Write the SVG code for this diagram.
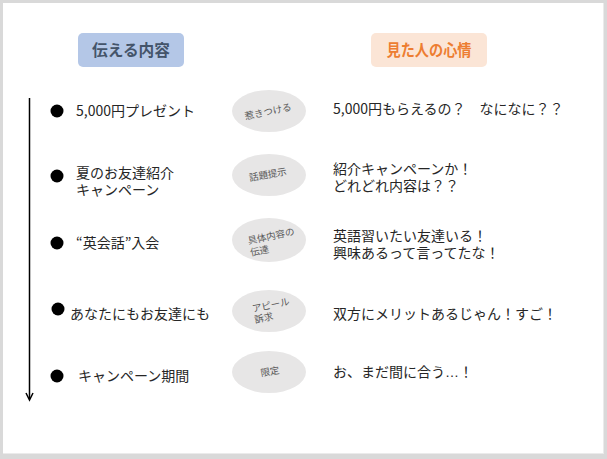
<svg xmlns="http://www.w3.org/2000/svg" width="607" height="459" viewBox="0 0 607 459">
<style>
text{font-family:"Noto Sans CJK JP","Noto Sans",sans-serif;}
.t{font-size:14px;fill:#262626;}
.e{fill:#E7E6E6;}
.et{font-size:9.5px;fill:#595959;}
.b{fill:#000;}
.h{font-size:16px;font-weight:bold;text-anchor:middle;}
.lat{font-family:"Liberation Sans",sans-serif;}
</style>
<rect x="0" y="0" width="607" height="459" fill="#D9D9D9"/>
<rect x="3" y="3" width="601" height="451" fill="#EBEBEB"/>
<rect x="3" y="3" width="600" height="450" fill="#FFFFFF"/>
<g id="connectors">
<line x1="29.5" y1="98" x2="29.5" y2="399" stroke="#000" stroke-width="1.5"/>
<path d="M26,393 L29.5,400 L33,393" fill="none" stroke="#000" stroke-width="1.5"/>
</g>
<g id="header-left">
<rect x="78" y="33" width="106" height="34" rx="5" fill="#B4C7E7"/>
<text class="h" x="131" y="55.5" fill="#44546A" textLength="78" lengthAdjust="spacingAndGlyphs">伝える内容</text>
</g>
<g id="header-right">
<rect x="371" y="33" width="116" height="34" rx="5" fill="#FBE5D6"/>
<text class="h" x="429" y="55.5" fill="#ED7D31" textLength="85" lengthAdjust="spacingAndGlyphs">見た人の心情</text>
</g>
<g id="item1">
<circle class="b" cx="57" cy="111" r="6.5"/>
<text class="t" x="76" y="116">5,000円プレゼント</text>
</g>
<g id="item2">
<circle class="b" cx="57" cy="176" r="6.5"/>
<text class="t"><tspan x="76" y="178">夏のお友達紹介</tspan><tspan x="76" y="195">キャンペーン</tspan></text>
</g>
<g id="item3">
<circle class="b" cx="57" cy="243" r="6.5"/>
<text class="t" x="76" y="248">“英会話”入会</text>
</g>
<g id="item4">
<circle class="b" cx="58" cy="309" r="6.5"/>
<text class="t" x="70" y="319">あなたにもお友達にも</text>
</g>
<g id="item5">
<circle class="b" cx="57" cy="376" r="6.5"/>
<text class="t" x="78" y="381">キャンペーン期間</text>
</g>
<g id="tag1">
<ellipse class="e" cx="269" cy="111" rx="37" ry="21"/>
<text class="et" x="268" y="115" text-anchor="middle" transform="rotate(-12 268 111)">惹きつける</text>
</g>
<g id="tag2">
<ellipse class="e" cx="269" cy="175" rx="37" ry="21"/>
<text class="et" x="268" y="178" text-anchor="middle" transform="rotate(-10 268 175)">話題提示</text>
</g>
<g id="tag3">
<ellipse class="e" cx="269" cy="240" rx="37" ry="22"/>
<text class="et" transform="rotate(-12 269 240)"><tspan x="248" y="240">具体内容の</tspan><tspan x="248" y="252">伝達</tspan></text>
</g>
<g id="tag4">
<ellipse class="e" cx="269" cy="311" rx="37" ry="21"/>
<text class="et" transform="rotate(-12 269 311)"><tspan x="253" y="309">アピール</tspan><tspan x="253" y="320">訴求</tspan></text>
</g>
<g id="tag5">
<ellipse class="e" cx="269" cy="372" rx="37" ry="21"/>
<text class="et" x="270" y="375" text-anchor="middle" transform="rotate(-10 270 372)">限定</text>
</g>
<g id="feel1">
<text class="t" x="333" y="114">5,000円もらえるの？　なになに？？</text>
</g>
<g id="feel2">
<text class="t"><tspan x="333" y="173.5">紹介キャンペーンか！</tspan><tspan x="333" y="191">どれどれ内容は？？</tspan></text>
</g>
<g id="feel3">
<text class="t"><tspan x="333" y="241">英語習いたい友達いる！</tspan><tspan x="333" y="257.5">興味あるって言ってたな！</tspan></text>
</g>
<g id="feel4">
<text class="t" x="333" y="319">双方にメリットあるじゃん！すご！</text>
</g>
<g id="feel5">
<text class="t" x="333" y="376.5">お、まだ間に合う<tspan class="lat">…</tspan>！</text>
</g>
</svg>
